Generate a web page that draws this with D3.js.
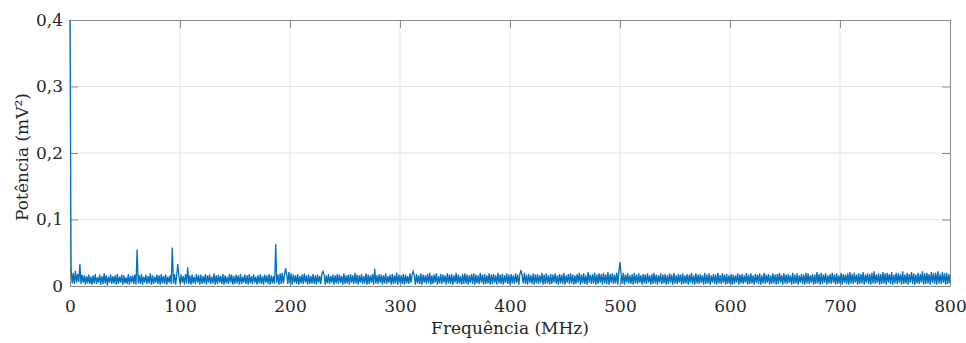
<!DOCTYPE html>
<html>
<head>
<meta charset="utf-8">
<script src="https://cdn.jsdelivr.net/npm/d3@7"></script>
<style>
  body { margin: 0; background: #fff; }
</style>
</head>
<body>
<svg id="chart" width="966" height="343"></svg>
<script>
// Power spectrum, values (units of 1e-3 mV², 1 MHz apart, starting at 0 MHz)
const freqStepMHz = 1;
const powerMilli = [
  400,26,4,20,3,23,5,18,6,33,3,17,5,16,2,15,4,17,3,14,
  2,16,4,18,3,13,5,17,2,15,3,19,4,16,1,14,5,17,3,15,
  4,16,2,18,3,14,5,17,2,16,4,13,3,18,2,15,5,16,3,17,
  2,55,4,16,3,18,2,14,5,17,3,15,4,19,2,16,3,14,5,17,
  3,16,2,18,4,15,3,17,2,14,5,16,3,58,4,18,2,16,33,15,
  3,17,5,15,2,18,4,28,3,16,2,17,4,14,3,18,5,16,2,17,
  3,15,4,18,2,16,5,17,3,14,4,19,2,16,3,17,5,15,3,18,
  2,16,4,14,3,18,5,17,2,15,3,17,4,16,2,18,3,14,5,17,
  3,16,2,18,4,15,3,17,5,14,2,16,4,18,3,15,2,17,5,16,
  3,18,2,16,4,15,3,63,5,17,2,19,3,20,4,16,27,18,3,21,
  4,19,2,17,5,16,3,18,2,15,4,17,3,19,5,16,2,17,3,15,
  4,18,3,16,2,17,5,15,3,19,22,17,2,16,4,18,3,15,5,17,
  2,16,4,18,3,17,5,15,2,19,3,16,4,17,2,18,5,16,3,20,
  4,17,2,16,5,18,3,15,4,19,2,17,3,16,5,18,2,26,4,16,
  3,18,5,17,2,16,4,19,3,15,5,17,2,18,3,16,4,20,2,17,
  5,16,3,18,2,17,4,15,3,19,5,17,22,16,2,18,4,16,3,19,
  2,17,5,16,3,18,4,20,2,16,3,17,5,19,2,15,4,18,3,17,
  5,16,2,19,4,17,3,18,2,16,5,20,3,17,4,15,2,18,3,19,
  4,17,2,16,5,18,3,19,2,17,4,16,3,20,5,17,2,18,3,16,
  4,19,2,17,3,18,5,16,2,20,4,17,3,18,2,16,5,19,3,17,
  2,18,4,16,3,19,5,17,2,18,24,16,4,20,3,17,2,18,5,16,
  3,19,2,17,4,18,3,16,5,20,2,17,3,19,4,16,2,18,3,17,
  5,19,3,16,2,18,4,17,3,20,2,16,5,18,3,19,4,17,2,16,
  3,18,5,20,2,17,4,19,3,16,2,21,5,17,3,18,4,20,2,17,
  3,19,5,18,2,20,4,17,3,21,2,18,5,19,3,17,4,20,2,22,
  36,18,3,20,2,17,5,19,4,16,3,18,2,20,4,17,3,19,5,16,
  2,18,4,17,3,19,5,16,2,18,3,20,4,17,2,16,5,19,3,17,
  4,18,2,16,3,19,5,17,2,20,4,16,3,18,5,17,2,19,3,16,
  4,18,2,17,5,20,3,16,2,19,4,17,3,18,5,16,2,20,3,17,
  4,19,2,16,5,18,3,17,2,20,4,16,3,19,5,17,2,18,3,16,
  4,18,2,17,3,16,5,19,2,17,4,18,3,16,5,20,2,17,3,19,
  4,16,2,18,5,17,3,19,2,16,4,20,3,17,5,18,2,16,3,19,
  4,17,2,18,3,20,5,16,2,19,4,17,3,18,5,16,2,20,3,17,
  4,19,2,16,5,18,3,17,2,20,4,19,3,16,5,18,2,17,3,21,
  4,18,2,20,3,17,5,19,2,16,4,18,3,20,5,17,2,19,3,16,
  4,20,2,18,5,17,3,19,2,21,4,18,3,20,5,17,2,19,3,18,
  4,21,2,17,5,19,3,18,2,20,4,22,3,17,5,19,2,18,3,21,
  4,19,2,20,5,18,3,21,2,17,4,20,3,19,5,18,2,22,3,17,
  4,20,2,18,5,21,3,19,2,17,4,20,3,18,5,22,2,19,3,20,
  4,18,2,21,5,19,3,20,2,22,4,18,3,21,5,19,2,20,3,18,
  4
];
const xTicks = [0, 100, 200, 300, 400, 500, 600, 700, 800];
const yTicks = [0, 0.1, 0.2, 0.3, 0.4];

const WIDTH = 966, HEIGHT = 343;
const MARGIN = { left: 70, right: 16, top: 20, bottom: 57 };
const LINE_COLOR = '#0072BD';
const FONT = '"DejaVu Serif", serif';
const FONT_SIZE = 17;

const svg = d3.select('#chart');
const innerW = WIDTH - MARGIN.left - MARGIN.right;
const innerH = HEIGHT - MARGIN.top - MARGIN.bottom;

const data = powerMilli.map((p, i) => ({ f: i * freqStepMHz, p: p / 1000 }));

const x = d3.scaleLinear().domain([0, 800]).range([MARGIN.left, MARGIN.left + innerW]);
const y = d3.scaleLinear().domain([0, 0.4]).range([MARGIN.top + innerH, MARGIN.top]);

const fmt = d => d === 0 ? '0' : d3.format('.1f')(d).replace('.', ',');

// grid
svg.append('g')
  .selectAll('line')
  .data(xTicks.slice(1, -1))
  .join('line')
  .attr('x1', d => x(d)).attr('x2', d => x(d))
  .attr('y1', MARGIN.top).attr('y2', MARGIN.top + innerH)
  .attr('stroke', '#e3e3e3').attr('stroke-width', 1);
svg.append('g')
  .selectAll('line')
  .data(yTicks.slice(1, -1))
  .join('line')
  .attr('x1', MARGIN.left).attr('x2', MARGIN.left + innerW)
  .attr('y1', d => y(d)).attr('y2', d => y(d))
  .attr('stroke', '#e3e3e3').attr('stroke-width', 1);

// axes with inward ticks
const axisColor = '#8c8c8c';
const xAxis = svg.append('g')
  .attr('transform', `translate(0,${MARGIN.top + innerH})`)
  .call(d3.axisBottom(x).tickValues(xTicks).tickFormat(d => d).tickSizeInner(-8).tickSizeOuter(0).tickPadding(14));
const xTop = svg.append('g')
  .attr('transform', `translate(0,${MARGIN.top})`)
  .call(d3.axisTop(x).tickValues(xTicks).tickFormat('').tickSizeInner(-8).tickSizeOuter(0));
const yAxis = svg.append('g')
  .attr('transform', `translate(${MARGIN.left},0)`)
  .call(d3.axisLeft(y).tickValues(yTicks).tickFormat(fmt).tickSizeInner(-8).tickSizeOuter(0).tickPadding(7));
const yRight = svg.append('g')
  .attr('transform', `translate(${MARGIN.left + innerW},0)`)
  .call(d3.axisRight(y).tickValues(yTicks).tickFormat('').tickSizeInner(-8).tickSizeOuter(0));

[xAxis, xTop, yAxis, yRight].forEach(g => {
  g.attr('font-family', FONT).attr('font-size', FONT_SIZE);
  g.select('.domain').attr('stroke', axisColor);
  g.selectAll('.tick line').attr('stroke', axisColor);
  g.selectAll('.tick text').attr('fill', '#262626');
});

// spectrum line
svg.append('path')
  .datum(data)
  .attr('fill', 'none')
  .attr('stroke', LINE_COLOR)
  .attr('stroke-width', 1.3)
  .attr('d', d3.line().x(d => x(d.f)).y(d => y(d.p)));

// labels
svg.append('text')
  .attr('x', MARGIN.left + innerW / 2)
  .attr('y', 334)
  .attr('text-anchor', 'middle')
  .attr('font-family', FONT)
  .attr('font-size', FONT_SIZE)
  .attr('fill', '#262626')
  .text('Frequência (MHz)');
svg.append('text')
  .attr('transform', `translate(28,${MARGIN.top + innerH / 2 + 4}) rotate(-90)`)
  .attr('text-anchor', 'middle')
  .attr('font-family', FONT)
  .attr('font-size', FONT_SIZE)
  .attr('fill', '#262626')
  .text('Potência (mV²)');
</script>
</body>
</html>
